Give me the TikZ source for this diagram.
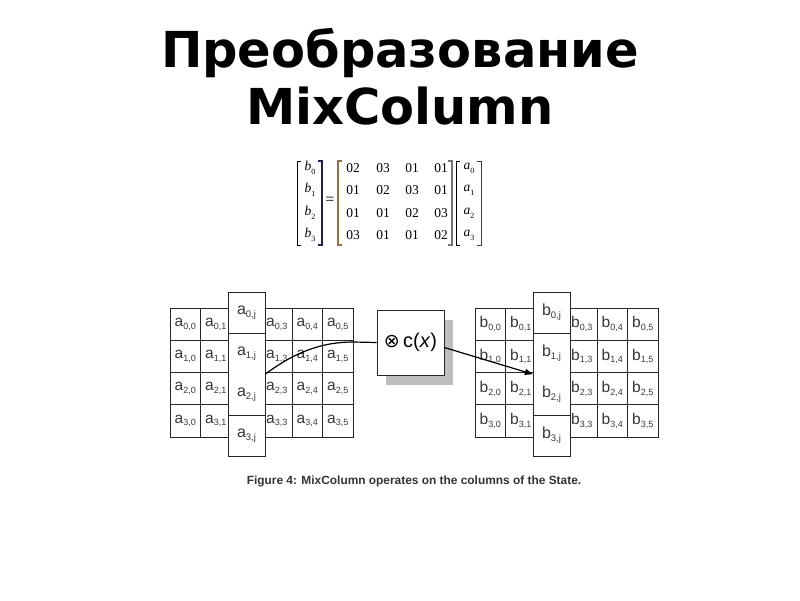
\documentclass[tikz,border=0pt]{standalone}
\usepackage{fontspec}
\setmainfont{Liberation Serif}
\setsansfont{Liberation Sans}
\newfontfamily\titlefont{DejaVu Sans}
\newfontfamily\symfont{DejaVu Sans}
\usetikzlibrary{arrows.meta,shadows}
\definecolor{celltext}{RGB}{55,55,55}
\definecolor{shadowgray}{RGB}{190,190,190}
\definecolor{bracketbrown}{RGB}{160,110,60}
\definecolor{bracketnavy}{RGB}{30,30,90}
\definecolor{bracketred}{RGB}{110,40,40}
\newcommand{\cel}[2]{{\fontsize{15.5}{14}\selectfont #1}\raisebox{-0.28em}{\fontsize{9}{9}\selectfont #2}}
\newcommand{\hcel}[2]{{\fontsize{16}{14}\selectfont #1}\raisebox{-0.28em}{\fontsize{9.5}{9}\selectfont #2}}
\newcommand{\vent}[2]{\textit{#1}\raisebox{-0.3em}{\fontsize{8}{8}\selectfont #2}}
\tikzset{
  gridcell/.style={draw=black!85, line width=0.6pt, minimum width=30.5pt, minimum height=32.25pt, inner sep=0pt, font=\sffamily, text=celltext},
  hicell/.style={fill=white, minimum width=37pt, minimum height=41pt, inner sep=0pt, font=\sffamily, text=celltext},
  hiframe/.style={draw=black!85, line width=0.6pt},
  mentry/.style={font=\fontsize{13.5}{13.5}\selectfont, inner sep=0pt},
  opbox/.style={draw=black!85, fill=white, line width=0.7pt, minimum width=67pt, minimum height=65pt, inner sep=0pt,
    general shadow={fill=shadowgray, shadow xshift=9pt, shadow yshift=-10pt}},
  conn/.style={line width=1.2pt, black},
  titletext/.style={anchor=base, font=\titlefont\bfseries\fontsize{49.5}{49.5}\selectfont, inner sep=0pt},
}
\begin{document}
\begin{tikzpicture}[x=1pt,y=-1pt]
\useasboundingbox (0,0) rectangle (800,600);
% title
\node[titletext] (t1) at (400,67) {Преобразование};
\node[titletext] (t2) at (400,124) {MixColumn};
% matrix equation
\foreach \r/\y in {0/168,1/190,2/213,3/235}{
  \node[mentry] (b\r) at (310,\y) {\vent{b}{\r}};
  \node[mentry] (av\r) at (469,\y) {\vent{a}{\r}};
}
\node[mentry, font=\fontsize{16}{16}\selectfont] (eq) at (330,201) {=};
\foreach \r/\y/\ea/\eb/\ec/\ed in {0/168/02/03/01/01,1/190/01/02/03/01,2/213/01/01/02/03,3/235/03/01/01/02}{
  \node[mentry] (m\r0) at (353,\y) {\ea};
  \node[mentry] (m\r1) at (383,\y) {\eb};
  \node[mentry] (m\r2) at (412,\y) {\ec};
  \node[mentry] (m\r3) at (441,\y) {\ed};
}
% brackets
\draw[line width=0.8pt] (301,161) -- (297,161) -- (297,245) -- (301,245);
\draw[line width=1.2pt, bracketnavy] (318,161) -- (322,161) -- (322,245) -- (318,245);
\draw[line width=2pt, bracketbrown] (342,161) -- (338,161) -- (338,245) -- (342,245);
\draw[line width=2pt, black!55] (448,161) -- (452,161) -- (452,245) -- (448,245);
\draw[line width=0.8pt] (460,161) -- (456,161) -- (456,245) -- (460,245);
\draw[line width=1pt, bracketred] (477,161) -- (481,161) -- (481,245) -- (477,245);
% left grid
\foreach \r in {0,1,2,3}{
  \foreach \c in {0,1,3,4,5}{
    \pgfmathsetmacro{\cx}{170+30.5*(\c+0.5)}
    \pgfmathsetmacro{\cy}{308+32.25*(\r+0.5)}
    \node[gridcell] (a\r\c) at (\cx,\cy) {\cel{a}{\r,\c}};
  }
}
\foreach \r/\y in {0/312.5,1/353.5,2/394.5,3/435.5}{
  \node[hicell] (a\r j) at (246.5,\y) {\hcel{a}{\r,j}};
}
\draw[hiframe] (a0j.north west) rectangle (a3j.south east);
\draw[hiframe] (a0j.south west) -- (a0j.south east);
\draw[hiframe] (a2j.south west) -- (a2j.south east);
% right grid
\foreach \r in {0,1,2,3}{
  \foreach \c in {0,1,3,4,5}{
    \pgfmathsetmacro{\cx}{475+30.5*(\c+0.5)}
    \pgfmathsetmacro{\cy}{308+32.25*(\r+0.5)}
    \node[gridcell] (bb\r\c) at (\cx,\cy) {\cel{b}{\r,\c}};
  }
}
\foreach \r/\y in {0/312.5,1/353.5,2/394.5,3/435.5}{
  \node[hicell] (b\r j) at (551.5,\y) {\hcel{b}{\r,j}};
}
\draw[hiframe] (b0j.north west) rectangle (b3j.south east);
\draw[hiframe] (b0j.south west) -- (b0j.south east);
\draw[hiframe] (b2j.south west) -- (b2j.south east);
% operation box
\node[opbox] (cx) at (410.5,342.5) {{\symfont\fontsize{19}{19}\selectfont ⊗}\,\,{\sffamily\fontsize{20}{20}\selectfont c(\textit{x})}};
% connectors
\draw[conn] (a1j.south east) .. controls (295,352) and (322,342) .. (353,342) -- (cx.west);
\draw[conn, -{Triangle[length=8pt,width=6pt]}] ([yshift=-5pt]cx.east) -- (b1j.south west);
% caption
\node[font=\sffamily\bfseries\fontsize{11.9}{13}\selectfont, text=black!80, inner sep=0pt] (cap) at (414,481) {Figure 4: MixColumn operates on the columns of the State.};
\end{tikzpicture}
\end{document}
